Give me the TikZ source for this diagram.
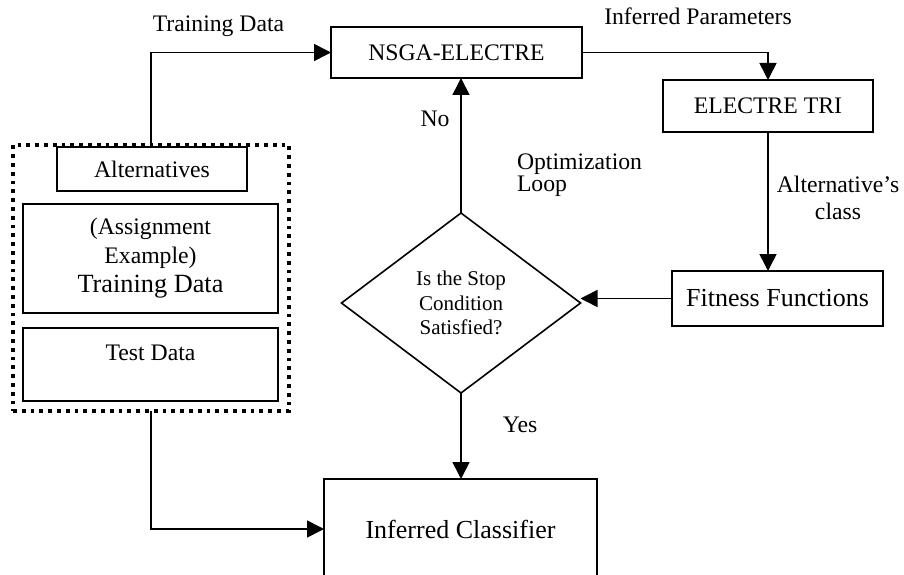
\documentclass[tikz,border=0pt]{standalone}
\usepackage{fontspec}
\setmainfont{Liberation Serif}
\usetikzlibrary{shapes.geometric,arrows.meta}

\begin{document}
\begin{tikzpicture}[x=1pt,y=-1pt,
  every node/.style={inner sep=0pt, outer sep=0pt},
  box/.style={draw, line width=1.6pt, align=center, font=\fontsize{23.7}{29}\selectfont},
  bigbox/.style={box, font=\fontsize{26}{29}\selectfont},
  lbl/.style={font=\fontsize{23.7}{27}\selectfont},
  flow/.style={line width=1.6pt, -{Triangle[length=17pt,width=17pt]}},
  group/.style={draw, line width=3.8pt, dash pattern=on 3.8pt off 5pt}
]
\useasboundingbox (0,0) rectangle (904,575);
\clip (0,0) rectangle (904,575);

% input data group
\node[group, minimum width=276pt, minimum height=266pt] (inputs) at (151,278) {};
\node[box, minimum width=190pt, minimum height=44pt] (alt) at (152,169) {Alternatives};
\node[box, minimum width=255pt, minimum height=109pt] (train) at (150.5,258.5)
  {(Assignment\\Example)\\\fontsize{26.3}{29}\selectfont Training Data};
\node[box, minimum width=255pt, minimum height=73pt, text height=15.7pt, text depth=24.7pt] (test) at (150.5,364.5) {Test Data};

% process blocks
\node[box, minimum width=251pt, minimum height=51pt] (nsga) at (456.5,52.5) {NSGA-ELECTRE};
\node[box, minimum width=210pt, minimum height=52pt] (etri) at (768,106) {ELECTRE TRI};
\node[bigbox, minimum width=211pt, minimum height=55pt] (fit) at (777.5,298.5) {Fitness Functions};
\node[diamond, draw, line width=1.6pt, minimum width=239pt, minimum height=180pt, align=center,
      font=\fontsize{21}{24.5}\selectfont] (stop) at (461,303) {Is the Stop\\Condition\\Satisfied?};
\node[bigbox, minimum width=273pt, minimum height=100pt] (cls) at (460.5,529) {Inferred Classifier};

% connectors
\draw[flow] (inputs.north) |- (nsga.west);
\draw[flow] (nsga.east) -| (etri.north);
\draw[flow] (etri.south) -- (etri.south |- fit.north);
\draw[flow] (fit.west) -- (fit.west -| stop.east);
\draw[flow] (stop.north) -- (stop.north |- nsga.south);
\draw[flow] (stop.south) -- (stop.south |- cls.north);
\draw[flow] (inputs.south) |- (cls.west);

% labels
\node[lbl, anchor=base] (ltrain) at (218.5,32) {Training Data};
\node[lbl, anchor=base] (lparam) at (698,25) {Inferred Parameters};
\node[lbl, anchor=base] (lno) at (435,127) {No};
\node[lbl, anchor=base] (lyes) at (520,432) {Yes};
\node[lbl, anchor=west, align=left, font=\fontsize{23.7}{22}\selectfont] (lloop) at (517,175.5) {Optimization\\Loop};
\node[lbl, align=center] (lclass) at (838,197.5) {Alternative’s\\class};
\end{tikzpicture}
\end{document}
